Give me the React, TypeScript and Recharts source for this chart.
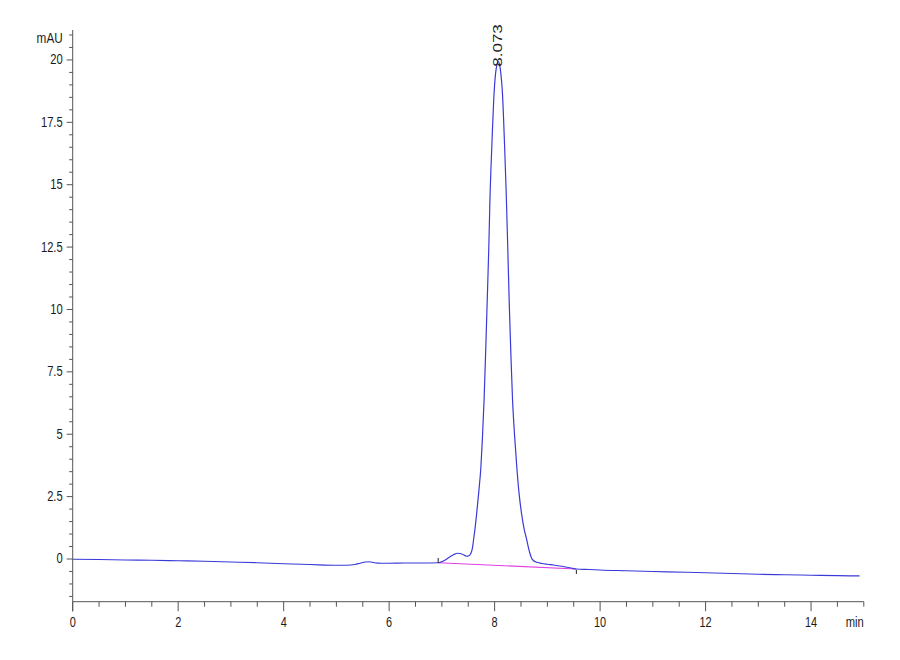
import React from "react";
import { LineChart, Line, XAxis, YAxis, ReferenceLine, ReferenceDot } from "recharts";

// Retention time (min) and signal (mAU)
const RT = [
  0, 0.5, 1.0, 1.5, 2.0, 2.5, 3.0, 3.5, 4.0, 4.5, 5.0, 5.2, 5.35, 5.45, 5.55, 5.62, 5.72, 5.85, 6.0, 6.3, 6.6,
  6.93, 7.02, 7.12, 7.22, 7.3, 7.38, 7.47, 7.51, 7.55, 7.58, 7.6, 7.63, 7.66, 7.7, 7.74, 7.77, 7.8, 7.83, 7.86,
  7.89, 7.91, 7.95, 7.99, 8.03, 8.073, 8.11, 8.15, 8.19, 8.22, 8.25, 8.28, 8.31, 8.34, 8.38, 8.42, 8.46, 8.51,
  8.56, 8.61, 8.64, 8.67, 8.7, 8.74, 8.8, 8.9, 9.0, 9.12, 9.3, 9.45, 9.55, 9.8, 10.0, 10.5, 11.0, 11.64, 12.0,
  12.5, 13.0, 13.5, 14.0, 14.5, 14.92,
];
const SIGNAL = [
  -0.01, -0.02, -0.04, -0.05, -0.07, -0.09, -0.12, -0.15, -0.19, -0.22, -0.25, -0.25, -0.22, -0.17, -0.12, -0.11,
  -0.15, -0.17, -0.17, -0.16, -0.16,
  -0.15, -0.09, 0.04, 0.17, 0.23, 0.2, 0.11, 0.13, 0.23, 0.45, 0.76, 1.25, 1.83, 2.7, 3.7, 4.9, 6.37, 8.3, 10.38,
  12.5, 14.3, 16.7, 18.67, 19.65, 19.93, 19.6, 18.6, 16.5, 14.66, 12.4, 10.06, 8.1, 6.37, 4.9, 3.7, 2.7, 1.83,
  1.2, 0.76, 0.47, 0.22, 0.04, -0.07, -0.13, -0.18, -0.21, -0.24, -0.3, -0.36, -0.4, -0.42, -0.44, -0.47, -0.5,
  -0.53, -0.55, -0.58, -0.61, -0.63, -0.65, -0.67, -0.68,
];

// Integration baseline
const BASE_RT = [6.93, 9.55];
const BASE_SIGNAL = [-0.15, -0.4];

// Peak annotation
const PEAK_RT = 8.073;
const PEAK_HEIGHT = 19.93;
const PEAK_LABEL = "8.073";

// Axis labels
const Y_LABELS = [0, 2.5, 5, 7.5, 10, 12.5, 15, 17.5, 20];
const X_LABELS = [0, 2, 4, 6, 8, 10, 12, 14];
const Y_UNIT = "mAU";
const X_UNIT = "min";

const Y_TICKS: number[] = [];
for (let i = -3; i <= 42; i++) Y_TICKS.push(i * 0.5);
const X_TICKS: number[] = [];
for (let i = 0; i <= 30; i++) X_TICKS.push(i * 0.5);

const trace = RT.map((t, i) => ({ t, v: SIGNAL[i] }));
const baseline = BASE_RT.map((t, i) => ({ t, v: BASE_SIGNAL[i] }));

const FONT = "'Liberation Sans', Arial, Helvetica, sans-serif";
const AXIS_COLOR = "#555";
const TEXT_COLOR = "#1a1a1a";

const YTick = (props: any) => {
  const { x, y, payload } = props;
  const v = payload.value as number;
  const major = Y_LABELS.includes(v);
  return (
    <g>
      <line x1={x - (major ? 6 : 3.5)} x2={x} y1={y} y2={y} stroke={AXIS_COLOR} strokeWidth={1} />
      {major && (
        <g transform={`translate(${x - 10},${y}) scale(0.8,1)`}>
          <text textAnchor="end" dominantBaseline="central" fontSize={14} fontFamily={FONT} fill={TEXT_COLOR}>
            {String(v)}
          </text>
        </g>
      )}
      {v === 21 && (
        <g transform={`translate(${x - 10},${y + 3}) scale(0.84,1)`}>
          <text textAnchor="end" dominantBaseline="central" fontSize={14} fontFamily={FONT} fill={TEXT_COLOR}>
            {Y_UNIT}
          </text>
        </g>
      )}
    </g>
  );
};

const XTick = (props: any) => {
  const { x, y, payload } = props;
  const v = payload.value as number;
  const major = X_LABELS.includes(v);
  const last = v === 15;
  return (
    <g>
      <line x1={x} x2={x} y1={y} y2={y + (major ? 9.5 : 5)} stroke={AXIS_COLOR} strokeWidth={1} />
      {major && (
        <g transform={`translate(${x},${y + 21}) scale(0.78,1)`}>
          <text textAnchor="middle" dominantBaseline="central" fontSize={14} fontFamily={FONT} fill={TEXT_COLOR}>
            {String(v)}
          </text>
        </g>
      )}
      {last && (
        <g transform={`translate(${x},${y + 21}) scale(0.8,1)`}>
          <text textAnchor="end" dominantBaseline="central" fontSize={14} fontFamily={FONT} fill={TEXT_COLOR}>
            {X_UNIT}
          </text>
        </g>
      )}
    </g>
  );
};

const PeakLabel = (props: any) => {
  const { cx, cy } = props;
  return (
    <g transform={`translate(${cx - 1},${cy + 5}) scale(0.75,1) rotate(-90)`}>
      <text textAnchor="start" dominantBaseline="central" fontSize={17} fontFamily={FONT} fill={TEXT_COLOR}>
        {PEAK_LABEL}
      </text>
    </g>
  );
};

export default function App() {
  return (
    <div style={{ width: 900, height: 660, background: "#fff" }}>
      <LineChart width={900} height={660} margin={{ top: 22, right: 44.2, left: 0, bottom: 26.3 }}>
        <XAxis
          type="number"
          dataKey="t"
          domain={[0, 15]}
          ticks={X_TICKS}
          interval={0}
          tickSize={0}
          tickMargin={0}
          tickLine={false}
          tick={<XTick />}
          height={40}
          allowDataOverflow
          stroke={AXIS_COLOR}
        />
        <YAxis
          type="number"
          dataKey="v"
          domain={[-1.711, 21.2]}
          ticks={Y_TICKS}
          interval={0}
          tickSize={0}
          tickMargin={0}
          tickLine={false}
          tick={<YTick />}
          width={64.7}
          allowDataOverflow
          stroke={AXIS_COLOR}
        />
        <ReferenceLine
          segment={[
            { x: 0, y: -1.711 },
            { x: 0, y: -2.1 },
          ]}
          stroke={AXIS_COLOR}
          ifOverflow="visible"
        />
        <Line
          data={baseline}
          dataKey="v"
          type="linear"
          stroke="#e040e0"
          strokeWidth={1.2}
          dot={false}
          isAnimationActive={false}
        />
        <Line
          data={trace}
          dataKey="v"
          type="monotone"
          stroke="#3a3ad8"
          strokeWidth={1.2}
          dot={false}
          isAnimationActive={false}
        />
        <ReferenceLine
          segment={[
            { x: BASE_RT[0], y: 0.04 },
            { x: BASE_RT[0], y: -0.16 },
          ]}
          stroke="#222"
        />
        <ReferenceLine
          segment={[
            { x: BASE_RT[1], y: -0.44 },
            { x: BASE_RT[1], y: -0.6 },
          ]}
          stroke="#222"
        />
        <ReferenceDot x={PEAK_RT} y={PEAK_HEIGHT} r={0} shape={<PeakLabel />} ifOverflow="visible" />
      </LineChart>
    </div>
  );
}
